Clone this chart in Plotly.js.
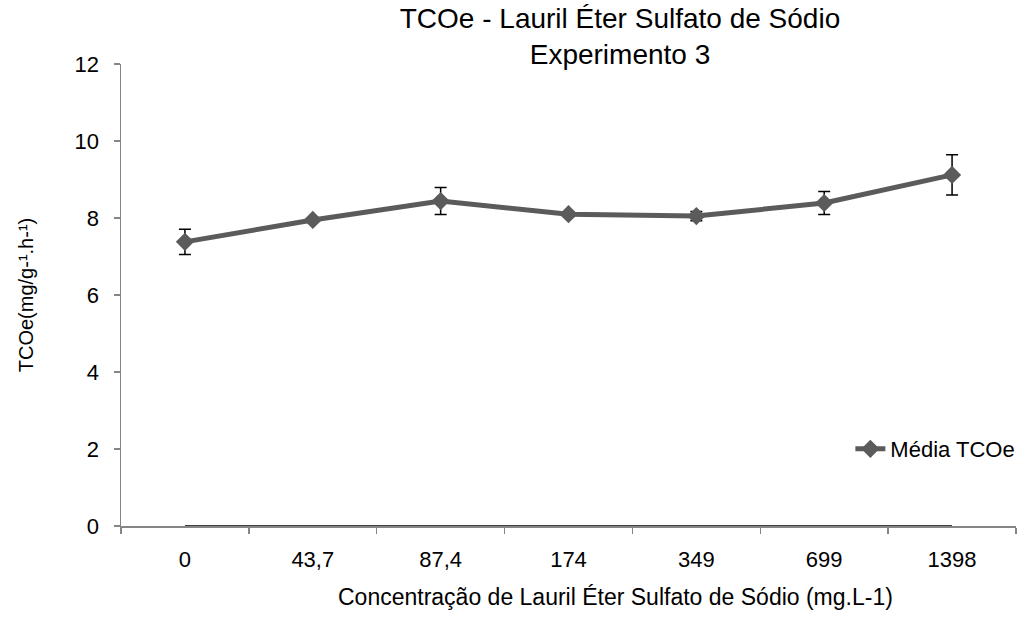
<!DOCTYPE html>
<html>
<head>
<meta charset="utf-8">
<script src="https://cdn.plot.ly/plotly-3.0.1.min.js"></script>
<style>html,body{margin:0;padding:0;background:#fff;}#chart{width:1032px;height:627px;}</style>
</head>
<body>
<div id="chart"></div>
<script>
const categories = ["0", "43,7", "87,4", "174", "349", "699", "1398"];
const mediaTCOe = [7.38, 7.95, 8.44, 8.10, 8.05, 8.39, 9.12];
const errorTCOe = [0.33, 0.05, 0.35, 0.06, 0.12, 0.30, 0.52];
const baseline = [0, 0, 0, 0, 0, 0, 0];
const xTitle = "Concentração de Lauril Éter Sulfato de Sódio (mg.L-1)";
const yTitle = "TCOe(mg/g-¹.h-¹)";
const chartTitle = "TCOe - Lauril Éter Sulfato de Sódio<br>Experimento 3";

const font = "Liberation Sans, Arial, sans-serif";

const traces = [
  {
    x: categories, y: baseline, type: "scatter", mode: "lines",
    line: {color: "#000000", width: 1.5}, showlegend: false, hoverinfo: "skip"
  },
  {
    x: categories, y: mediaTCOe, type: "scatter", mode: "lines+markers",
    name: "Média TCOe",
    line: {color: "#5b5b5b", width: 5},
    marker: {symbol: "diamond", size: 14, color: "#5b5b5b"},
    error_y: {type: "data", array: errorTCOe, visible: true, color: "#000000", thickness: 1.5, width: 6}
  }
];

const layout = {
  width: 1032, height: 627,
  paper_bgcolor: "#ffffff", plot_bgcolor: "#ffffff",
  margin: {l: 121, r: 14, t: 64, b: 101},
  font: {family: font, size: 22, color: "#000000"},
  title: {
    text: chartTitle,
    font: {family: font, size: 28, color: "#000000"},
    x: 620/1032, xref: "container", xanchor: "center",
    y: 1 - 28/627, yref: "container", yanchor: "top"
  },
  xaxis: {
    type: "category", range: [-0.5, 6.5],
    tickson: "boundaries", ticks: "outside", ticklen: 6, tickwidth: 1.5, tickcolor: "#868686",
    showline: true, linecolor: "#868686", linewidth: 1.5,
    showgrid: false, zeroline: false,
    ticklabelstandoff: 13,
    tickfont: {family: font, size: 22, color: "#000000"}
  },
  yaxis: {
    range: [0, 12], dtick: 2, tick0: 0,
    ticks: "outside", ticklen: 6, tickwidth: 1.5, tickcolor: "#868686",
    showline: true, linecolor: "#868686", linewidth: 1.5,
    showgrid: false, zeroline: false,
    ticklabelstandoff: 10,
    tickfont: {family: font, size: 22, color: "#000000"},
    title: {text: yTitle, font: {family: font, size: 20, color: "#000000"}, standoff: 35}
  },
  annotations: [
    {
      text: xTitle, showarrow: false,
      xref: "paper", x: (617-121)/897, xanchor: "center",
      yref: "paper", y: -(597-526)/462, yanchor: "middle",
      font: {family: font, size: 23, color: "#000000"}
    }
  ],
  showlegend: true,
  legend: {
    x: (852-121)/897, xanchor: "left", y: (526-449)/462, yanchor: "middle",
    bgcolor: "rgba(0,0,0,0)", font: {family: font, size: 22, color: "#000000"},
    itemwidth: 30
  }
};

Plotly.newPlot("chart", traces, layout, {displayModeBar: false, staticPlot: true});
</script>
</body>
</html>
